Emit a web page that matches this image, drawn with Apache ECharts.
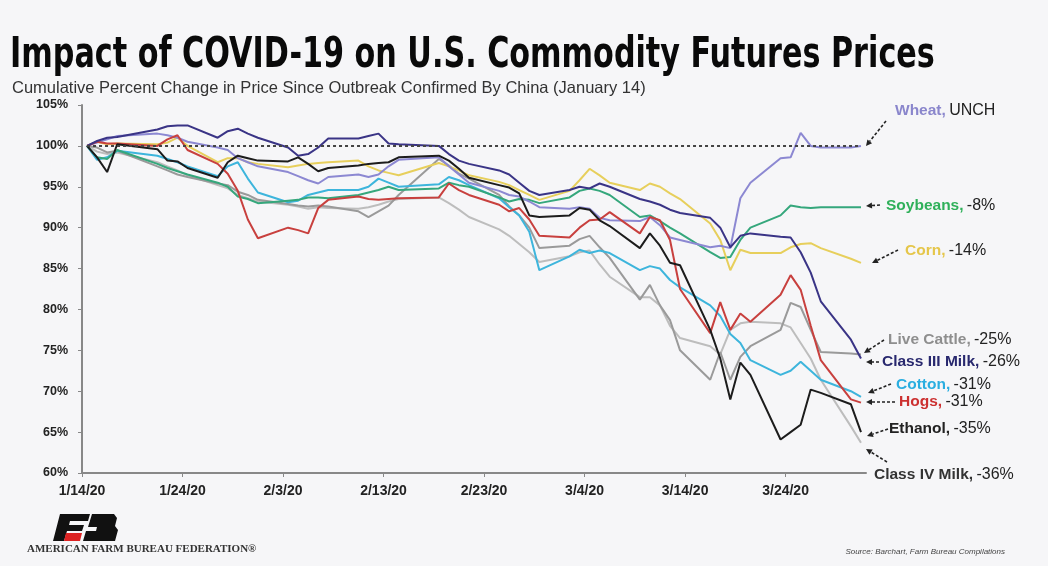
<!DOCTYPE html>
<html><head><meta charset="utf-8">
<script src="https://cdn.jsdelivr.net/npm/echarts@6/dist/echarts.min.js"></script>
<style>html,body{margin:0;padding:0;background:#f6f6f8}#c{width:1048px;height:566px}</style>
</head><body><div id="c"></div>
<script>
// ---- DATA ----
const dates = ["2020-01-14","2020-01-15","2020-01-16","2020-01-17","2020-01-21","2020-01-22","2020-01-23","2020-01-24","2020-01-27","2020-01-28","2020-01-29","2020-01-30","2020-01-31",
"2020-02-03","2020-02-04","2020-02-05","2020-02-06","2020-02-07","2020-02-10","2020-02-11","2020-02-12","2020-02-13","2020-02-14","2020-02-18","2020-02-19","2020-02-20","2020-02-21","2020-02-24","2020-02-25","2020-02-26","2020-02-27","2020-02-28",
"2020-03-02","2020-03-03","2020-03-04","2020-03-05","2020-03-06","2020-03-09","2020-03-10","2020-03-11","2020-03-12","2020-03-13","2020-03-16","2020-03-17","2020-03-18","2020-03-19","2020-03-20","2020-03-23","2020-03-24","2020-03-25","2020-03-26","2020-03-27","2020-03-30","2020-03-31"];

const wheat = [100,100.4,100.8,101.2,101.5,101.3,101,100.5,99.8,99.5,98.5,98,97.5,
 96.8,96.3,95.8,95.4,96.2,96.5,96.2,96.5,97.5,98.3,98.6,97.5,96.5,95.5,94.5,94,93.8,93.2,92.5,
 92.3,92.5,92.3,91.2,90.9,90.8,91.3,90.3,88.8,88.5,87.6,87.8,87.5,93.6,95.5,98.5,98.6,101.6,100,99.8,99.8,100];
const soybeans = [100,98.6,98.4,99.5,97.8,97.3,96.9,96.5,95.5,95,93.8,93.5,93,
 93.3,93.4,93.7,93.7,93.6,94,94.3,94.6,95,94.6,94.8,95.5,95.2,95,93.7,93.2,93.5,93.4,93,
 93.7,94.5,94.8,94.5,94,91.3,91.5,90.8,90,89.3,87,86.3,86.4,88.5,90,91.5,92.7,92.5,92.4,92.5,92.5,92.5];
const corn = [100,100.5,100.2,100.3,100.2,100.4,101,100,98,98.5,98.5,98,97.8,
 97.4,97.6,97.8,97.9,98,98.2,97.5,97,96.7,96.4,97.9,97.5,97,96.4,95.6,95.2,94.6,94,93.4,
 94.5,95.8,97.2,96.4,95.5,94.6,95.4,95,94.2,93.5,90.5,88.5,84.8,87.3,86.9,86.9,87.6,88,88.1,87.5,86.2,85.7];
const liveCattle = [100,99.8,99.2,99.4,97.5,97,96.5,96.2,95.4,95.2,94.4,94,93.4,
 92.9,92.7,92.6,92.7,92.6,92,91.3,92,92.7,94,98.4,97.6,96.6,96,94,92.6,91.5,90,87.5,
 87.8,88.6,89,87.6,86.3,81.2,83,80.5,78.7,75,71.4,74.8,71.4,74.2,75.5,77.5,80.8,80.3,77.5,74.8,74.6,74.5];
const classIIIMilk = [100,100.6,101,101.1,102,102.4,102.5,102.5,101,101.8,102.1,101.5,101,
 99.8,98.8,99,99.8,100.9,100.9,101.2,101.5,100.3,100.2,100,99,98.2,97.8,97,96.5,95.5,94.5,94,
 94.6,95,94.8,95.4,95,93.5,93.2,92.8,92.2,91.8,91.2,90,87.6,89,89.3,88.9,88.8,87,84.5,81,76.3,74];
const cotton = [100,98.3,98.6,99.4,98.8,98.4,98,97.5,96.3,97.5,98,96,94.3,
 93.1,93.3,94,94.3,94.6,94.6,95,96,95.5,95,95.3,96.2,95.8,95.2,93.6,92.5,91.5,89.5,84.8,
 86.5,87.3,86.9,87.2,86.9,84.8,85.3,85,83.6,82.7,80.5,79.2,77,75.9,73.8,72,72.5,73.6,72.5,71.4,70,69.3];
const hogs = [100,100.5,100.3,100.3,100,100.8,101.3,99.5,97.8,96.6,94.5,91,88.7,
 90,89.7,89.3,92.4,93.4,93.8,93.5,93.4,93.5,93.6,93.7,95.4,94.6,94,92.8,92,92.4,91,89,
 88.8,90,90.9,91,91.9,89.3,91.3,90.9,88.5,82.5,77.1,80.9,77.5,79.5,78.5,81.8,84.2,82.4,78,73.8,69,68.6];
const ethanol = [100,98.6,96.8,100.2,99.6,98.2,98.1,97.3,96.1,98,98.8,98.5,98.2,
 98.1,98.6,97.8,96.9,97.3,97.6,97.8,97.9,98,98.6,98.8,98.2,97.2,96.1,95.2,94.9,94.2,91.5,91.3,
 91.5,92.4,92.2,90.9,90.2,87.5,89.3,87.8,85.7,85.4,77.5,74,69,73.5,72,64.1,65,65.9,70.2,69.8,68.4,65];
const classIVMilk = [100,99.3,99,99.2,98,97.5,97,96.4,95.2,94.8,94,93.6,93.2,
 92.8,92.6,92.3,92.5,92.4,92.3,92.5,92.8,93.2,93.5,93.7,93,92.2,91.3,89.8,89,88,87,85.8,
 86.5,87,87.2,85.5,84,81.5,81.5,80.5,78,76.5,75.5,74.5,77.5,78.3,78.5,78.3,77.8,75.9,74,71.4,65.7,63.7];

const yTicks = [60,65,70,75,80,85,90,95,100,105];
const xTickDays = [0,10,20,30,40,50,60,70];

// ---- helpers ----
const BASE = Date.UTC(2020,0,14);
const DAY = 86400000;
function dayOf(s){const p=s.split('-');return (Date.UTC(+p[0],+p[1]-1,+p[2])-BASE)/DAY;}
function pts(vals){return vals.map((v,i)=>[dayOf(dates[i])+0.5, v]);}
function lbl(d){const t=new Date(BASE+d*DAY);return (t.getUTCMonth()+1)+'/'+t.getUTCDate()+'/20';}

const seriesDefs = [
  ['Class IV Milk', classIVMilk, '#bdbdbd'],
  ['Live Cattle', liveCattle, '#9a9a9a'],
  ['Cotton', cotton, '#3db5dc'],
  ['Soybeans', soybeans, '#35a77c'],
  ['Corn', corn, '#e7cf5c'],
  ['Wheat', wheat, '#8c88d2'],
  ['Hogs', hogs, '#c8403e'],
  ['Class III Milk', classIIIMilk, '#3a3486'],
  ['Ethanol', ethanol, '#1c1c1c']
];

const series = seriesDefs.map(([n,v,c])=>({
  name:n, type:'line', data:pts(v), showSymbol:false, symbol:'none',
  lineStyle:{color:c, width:2}, itemStyle:{color:c}, animation:false, z:2
}));
series[0].markLine = {
  silent:true, symbol:'none', animation:false,
  lineStyle:{color:'#444', type:[3,3], width:2},
  label:{show:false},
  data:[[{coord:[0.5,100]},{coord:[77.5,100]}]]
};

function arrow(x1,y1,x2,y2){
  const a=Math.atan2(y2-y1,x2-x1), c=Math.cos(a), s=Math.sin(a), L=6, W=3;
  return [
    {type:'line', shape:{x1:x1,y1:y1,x2:x2-L*c,y2:y2-L*s}, style:{stroke:'#222',lineWidth:1.6,lineDash:[3,2]}, z:10},
    {type:'polygon', shape:{points:[[x2,y2],[x2-L*c+W*s,y2-L*s-W*c],[x2-L*c-W*s,y2-L*s+W*c]]}, style:{fill:'#222'}, z:10}
  ];
}
const LF = 'Liberation Sans, Arial, sans-serif';
function label(x,y,name,col,val){
  return {type:'text', x:x, y:y, z:10, style:{
    text:'{a|'+name+'} {b|'+val+'}', verticalAlign:'middle',
    rich:{a:{fill:col, fontWeight:'bold', fontSize:15.5, fontFamily:LF},
          b:{fill:'#222', fontSize:16, fontFamily:LF}}
  }};
}

const graphics = [].concat(
  [{type:'text', x:10, y:56, scaleX:0.8, z:10, style:{text:'Impact of COVID-19 on U.S. Commodity Futures Prices', verticalAlign:'middle', fill:'#0a0a0a', fontSize:42, fontWeight:'bold', fontFamily:'DejaVu Sans Condensed, DejaVu Sans, sans-serif'}},
   {type:'text', x:12, y:88, z:10, style:{text:'Cumulative Percent Change in Price Since Outbreak Confirmed By China (January 14)', verticalAlign:'middle', fill:'#333', fontSize:16.5, fontFamily:LF}}],
  label(895,111,'Wheat,','#8a86cc','UNCH'), arrow(886,121,866,146),
  label(886,206,'Soybeans,','#2fb05a','-8%'), arrow(880,205,866,206),
  label(905,251,'Corn,','#e5c64a','-14%'), arrow(898,250,872,263),
  label(888,340,'Live Cattle,','#8e8e8e','-25%'), arrow(884,340,864,353),
  label(882,362,'Class III Milk,','#28286e','-26%'), arrow(879,362,866,362),
  label(896,385,'Cotton,','#2aaee0','-31%'), arrow(891,384,868,393),
  label(899,402,'Hogs,','#cc3030','-31%'), arrow(895,402,866,402),
  label(889,429,'Ethanol,','#222','-35%'), arrow(888,429,867,436),
  label(874,475,'Class IV Milk,','#333','-36%'), arrow(887,462,866,449),
  [
    // logo
    {type:'polygon', shape:{points:[[60,514],[90,514],[88,521],[70,521],[69,525],[84,525],[82,531],[67,531],[64,541],[53,541]]}, style:{fill:'#111'}},
    {type:'polygon', shape:{points:[[92,514],[114,514],[117,518],[115,526],[118,530],[115,541],[83,541],[86,531],[96,531],[97,527],[88,527]]}, style:{fill:'#111'}},
    {type:'polygon', shape:{points:[[66,533],[82,533],[80,541],[64,541]]}, style:{fill:'#d22'}},
    {type:'text', x:27, y:549, style:{text:'AMERICAN FARM BUREAU FEDERATION\u00AE', verticalAlign:'middle', fill:'#333', fontSize:11, fontFamily:'Liberation Serif, serif', fontWeight:'bold'}},
    {type:'text', x:1005, y:552, style:{text:'Source: Barchart, Farm Bureau Compilations', align:'right', verticalAlign:'middle', fill:'#444', fontSize:8, fontStyle:'italic', fontFamily:'Liberation Sans, sans-serif'}}
  ]
);

const chart = echarts.init(document.getElementById('c'), null, {renderer:'canvas'});
chart.setOption({
  backgroundColor:'#f6f6f8',
  animation:false,
  grid:{left:82, right:182, top:105, bottom:93, containLabel:false},
  xAxis:{
    type:'value', min:0, max:78, interval:10,
    axisLine:{lineStyle:{color:'#888', width:2}},
    axisTick:{show:true, length:4, lineStyle:{color:'#888'}},
    splitLine:{show:false},
    axisLabel:{formatter:v=>xTickDays.includes(v)?lbl(v):'', showMaxLabel:false, color:'#222', fontWeight:'bold', fontSize:14, margin:11, fontFamily:LF}
  },
  yAxis:{
    type:'value', min:yTicks[0], max:yTicks[yTicks.length-1], interval:5,
    axisLine:{show:true, lineStyle:{color:'#888', width:2}},
    axisTick:{show:true, length:4, lineStyle:{color:'#888'}},
    splitLine:{show:false},
    axisLabel:{formatter:'{value}%', color:'#222', fontWeight:'bold', fontSize:12.5, margin:14, fontFamily:LF}
  },
  series:series,
  graphic:graphics
});
</script></body></html>
